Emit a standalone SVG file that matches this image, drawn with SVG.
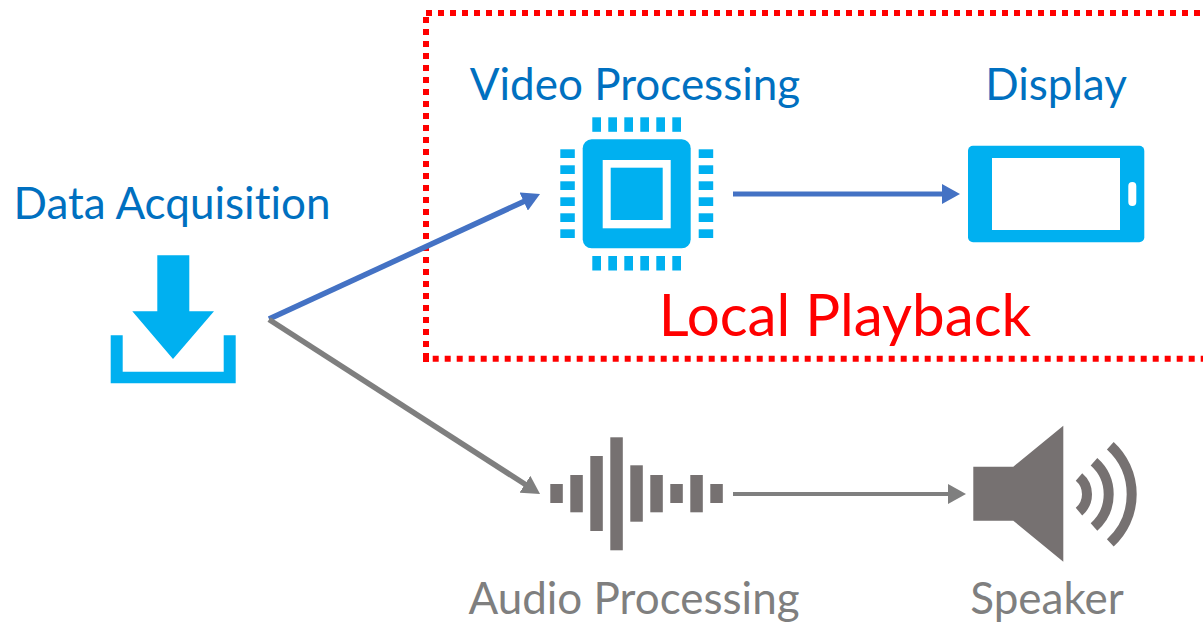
<svg xmlns="http://www.w3.org/2000/svg" width="1203" height="622" viewBox="0 0 1203 622">
<style>
.t{font-family:Lato,"Open Sans",sans-serif;font-size:44px;text-anchor:middle;font-variant-ligatures:none}
.bl{fill:#0070c0}.gt{fill:#7f7f7f}
.c{fill:#00b0f0}.g{fill:#767171}
.dot{fill:none;stroke:#ff0000;stroke-width:6;stroke-dasharray:6 6}
.lb{fill:none;stroke:#4472c4}.lg{fill:none;stroke:#7f7f7f}
</style>
<defs>
<marker id="ab" markerUnits="userSpaceOnUse" markerWidth="20" markerHeight="20" refX="2" refY="10" orient="auto"><path d="M0 0L18 10L0 20Z" fill="#4472c4"/></marker>
<marker id="ag" markerUnits="userSpaceOnUse" markerWidth="20" markerHeight="20" refX="2" refY="10" orient="auto"><path d="M0 0L18 10L0 20Z" fill="#7f7f7f"/></marker>
<g id="pinv"><rect width="8.7" height="14.5"/><rect x="16" width="8.7" height="14.5"/><rect x="32" width="8.7" height="14.5"/><rect x="48" width="8.7" height="14.5"/><rect x="64" width="8.7" height="14.5"/><rect x="80" width="8.7" height="14.5"/></g>
<g id="pinh"><rect width="14.5" height="8.7"/><rect y="16" width="14.5" height="8.7"/><rect y="32" width="14.5" height="8.7"/><rect y="48" width="14.5" height="8.7"/><rect y="64" width="14.5" height="8.7"/><rect y="80" width="14.5" height="8.7"/></g>
</defs>
<g id="local-playback">
<path class="dot" d="M426 13H1210"/>
<path class="dot" d="M426 17V353"/>
<path d="M423 353H429V362H423Z" fill="#ff0000"/>
<path class="dot" d="M432.7 358.7H1210"/>
<text x="845" y="336" font-family="Lato,'Open Sans',sans-serif" font-size="58.3" text-anchor="middle" fill="#ff0000">Local Playback</text>
</g>
<g id="connectors">
<path class="lb" stroke-width="5.5" marker-end="url(#ab)" d="M269 319L525.5 200.7"/>
<path class="lg" stroke-width="5.5" marker-end="url(#ag)" d="M269 319.5L526.6 485.3"/>
<path class="lb" stroke-width="5" marker-end="url(#ab)" d="M733 194H944"/>
<path class="lg" stroke-width="4" marker-end="url(#ag)" d="M733 494H950"/>
</g>
<g id="data-acquisition">
<text class="t bl" x="172" y="219">Data Acquisition</text>
<path class="c" d="M157.3 255.3H189.3V311.3H214L173 359L132.3 311.3H157.3Z"/>
<path class="c" d="M110.7 335.3H122.7V371.7H223.7V335.3H235.7V383.3H110.7Z"/>
</g>
<g id="video-processing">
<text class="t bl" x="635" y="100">Video Processing</text>
<use class="c" href="#pinv" x="592.3" y="117.3"/>
<use class="c" href="#pinv" x="592.3" y="256"/>
<use class="c" href="#pinh" x="560.3" y="149.3"/>
<use class="c" href="#pinh" x="698.7" y="149.3"/>
<rect class="c" x="582.7" y="139.3" width="108" height="109" rx="9"/>
<rect x="602.7" y="160" width="68" height="68.3" fill="#fff"/>
<rect class="c" x="610.7" y="167.7" width="52" height="52.3"/>
</g>
<g id="display">
<text class="t bl" x="1056" y="100">Display</text>
<rect class="c" x="968" y="145.7" width="176.3" height="96.6" rx="5"/>
<rect x="992" y="158" width="128" height="72" fill="#fff"/>
<rect x="1128.3" y="182" width="8" height="24" rx="4" fill="#fff"/>
</g>
<g id="audio-processing" class="g">
<rect x="550.3" y="484" width="12.5" height="19"/>
<rect x="570.3" y="475" width="12.5" height="37.3"/>
<rect x="590.3" y="456" width="12.5" height="75"/>
<rect x="610.3" y="437.3" width="12.5" height="113"/>
<rect x="630.3" y="465.3" width="12.5" height="56.4"/>
<rect x="650.3" y="475" width="12.5" height="37.3"/>
<rect x="670.3" y="484" width="12.5" height="19"/>
<rect x="690.3" y="475" width="12.5" height="37.3"/>
<rect x="710.3" y="484" width="12.5" height="19"/>
<text class="t gt" x="634" y="614">Audio Processing</text>
</g>
<g id="speaker">
<path class="g" d="M973.3 466.7H1013.3L1063.3 425.7V561.7L1013.3 520.7H973.3Z"/>
<g fill="none" stroke="#767171" stroke-width="10">
<path d="M1079 477A22.7 22.7 0 0 1 1079 511.6"/>
<path d="M1094 461.7A43.5 43.5 0 0 1 1094 526.9"/>
<path d="M1110.3 445.7A65.9 65.9 0 0 1 1110.3 542.9"/>
</g>
<text class="t gt" x="1047" y="614">Speaker</text>
</g>
</svg>
